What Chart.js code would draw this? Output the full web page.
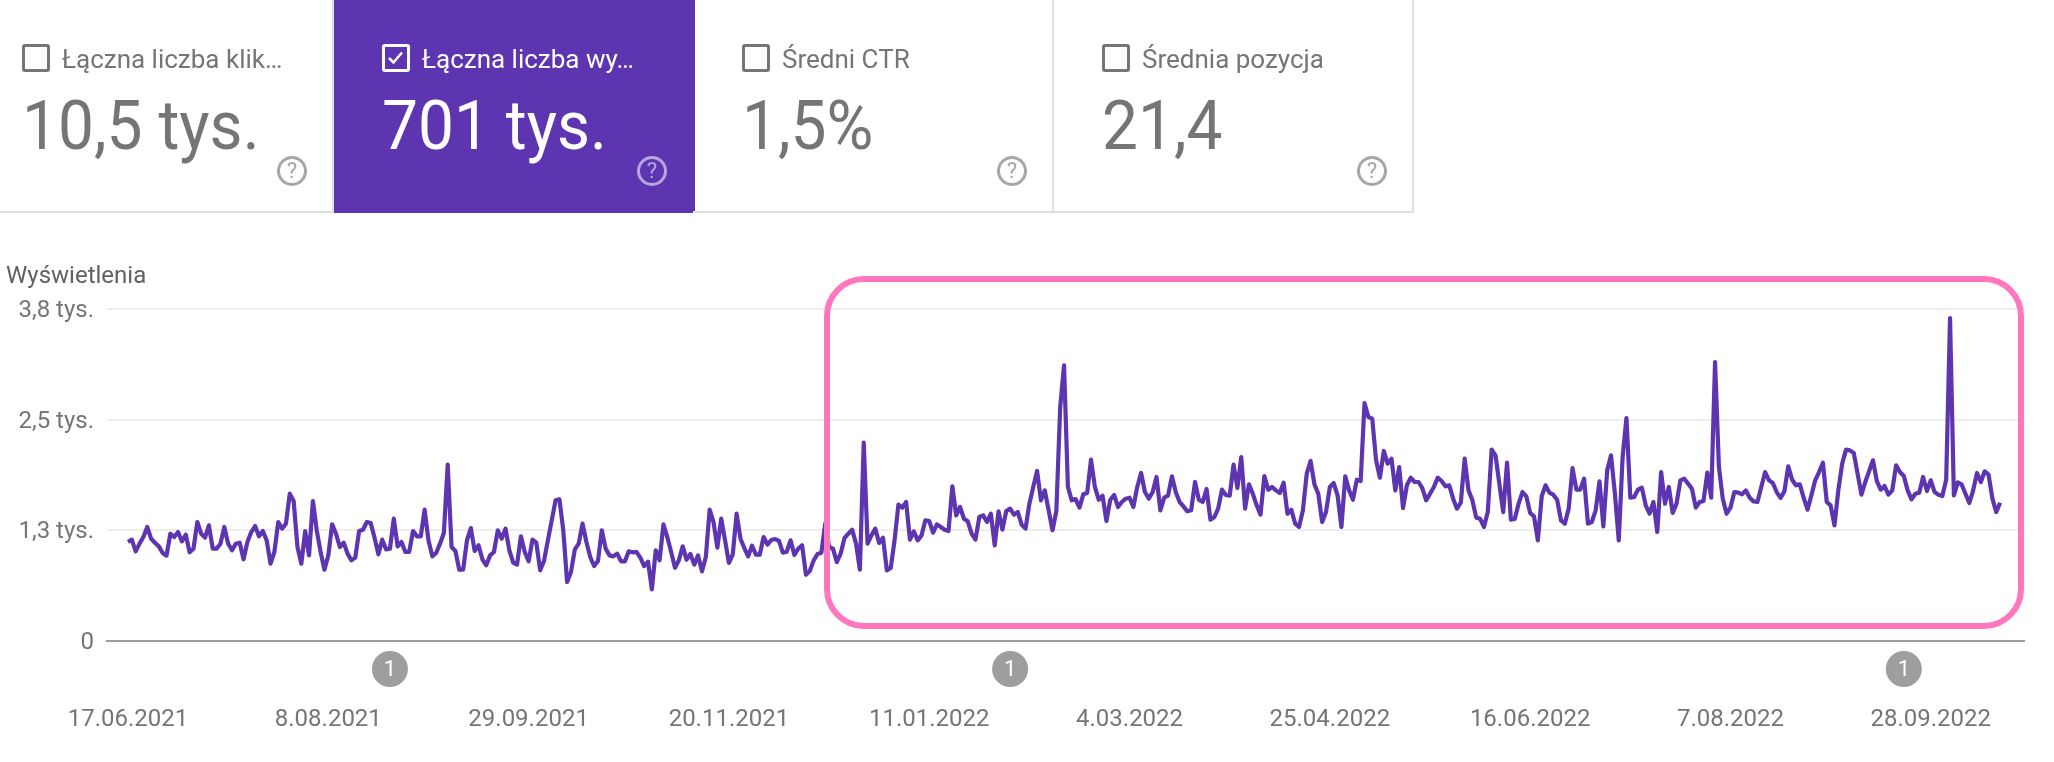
<!DOCTYPE html>
<html lang="pl">
<head>
<meta charset="utf-8">
<title>Wyświetlenia</title>
<script src="https://cdn.jsdelivr.net/npm/chart.js@4/dist/chart.umd.min.js"></script>
<style>
html, body { margin: 0; padding: 0; background: #fff; }
body { position: relative; width: 2054px; height: 762px; overflow: hidden; font-family: Roboto, sans-serif; }
#chart { position: absolute; left: 0; top: 0; }
.card { position: absolute; top: 0; height: 211px; border-bottom: 2px solid #e0e0e0; border-right: 2px solid #e0e0e0; color: #757575; box-sizing: content-box; }
.card.on { background: #5e35b1; color: #fff; border-color: #5e35b1; }
.box { position: absolute; left: 49px; top: 44px; width: 28px; height: 28px; box-sizing: border-box; border: 3.5px solid #757575; border-radius: 3px; }
.on .box { border-color: #fff; left: 48px; }
.box svg { position: absolute; left: 0; top: 0; }
.name { position: absolute; left: 89px; top: 44px; font-size: 26px; line-height: 30px; white-space: nowrap; }
.on .name { left: 88px; }
.num { position: absolute; left: 49px; top: 89px; font-size: 64px; line-height: 76px; white-space: nowrap; transform: scaleY(1.06); transform-origin: left center; }
.on .num { left: 48px; }
.help { position: absolute; left: 304px; top: 156px; width: 30px; height: 30px; box-sizing: border-box; border: 3px solid #a6a6a6; border-radius: 50%; color: #a6a6a6; font-size: 22px; line-height: 24px; text-align: center; }
.on .help { border-color: #b9a6e0; color: #b9a6e0; left: 303px; }
#ytitle { position: absolute; left: 6px; top: 261px; font-size: 24px; line-height: 28px; color: #616161; }
#frame { position: absolute; left: 824px; top: 276px; width: 1200px; height: 353px; box-sizing: border-box; border: 6px solid #ff76bc; border-radius: 40px; }
</style>
</head>
<body>
<canvas id="chart" width="2054" height="762"></canvas>

<div class="card" style="left:-2px;width:334px">
    <div class="box" style="left:24px"></div>
    <div class="name" style="left:64px">Łączna liczba klik…</div>
    <div class="num" style="left:24px">10,5 tys.</div>
    <div class="help" style="left:279px">?</div>
</div>
<div class="card on" style="left:334px;width:359px">
    <div class="box"><svg width="21" height="21" viewBox="0 0 21 21"><path d="M4 11 L8.5 15.5 L17 5.5" fill="none" stroke="#fff" stroke-width="2.5"/></svg></div>
    <div class="name">Łączna liczba wy…</div>
    <div class="num">701 tys.</div>
    <div class="help">?</div>
</div>
<div class="card" style="left:693px;width:359px">
    <div class="box"></div>
    <div class="name">Średni CTR</div>
    <div class="num">1,5%</div>
    <div class="help">?</div>
</div>
<div class="card" style="left:1053px;width:359px">
    <div class="box"></div>
    <div class="name">Średnia pozycja</div>
    <div class="num">21,4</div>
    <div class="help">?</div>
</div>

<div id="ytitle">Wyświetlenia</div>
<div id="frame"></div>

<script>
// one value per day, starting 17.06.2021
var impressions = [
    1133, 1160, 1026, 1114, 1190, 1305, 1171, 1125, 1083, 1007, 977, 1228, 1190, 1247, 1140, 1217,
    1015, 1057, 1362, 1228, 1183, 1324, 1057, 1057, 1114, 1305, 1114, 1038, 1114, 1125, 935, 1133,
    1247, 1316, 1198, 1259, 1152, 885, 1019, 1362, 1286, 1343, 1686, 1602, 1076, 885, 1259, 980,
    1602, 1267, 1019, 816, 980, 1335, 1228, 1076, 1125, 1000, 923, 954, 1259, 1274, 1362, 1350,
    1183, 992, 1160, 1049, 1057, 1400, 1083, 1133, 1019, 1019, 1259, 1198, 1198, 1503, 1152, 969,
    1007, 1114, 1236, 2018, 1076, 1030, 816, 816, 1152, 1293, 1030, 1095, 935, 866, 980, 1019,
    1267, 1171, 1286, 1038, 897, 874, 1198, 1019, 912, 1160, 1125, 809, 916, 1152, 1381, 1610,
    1621, 1267, 675, 790, 1049, 1114, 1343, 1133, 961, 858, 916, 1267, 1057, 980, 969, 1000,
    912, 912, 1026, 1015, 1019, 954, 858, 908, 591, 1038, 923, 1335, 1190, 1019, 839, 923,
    1083, 931, 996, 874, 980, 797, 961, 1503, 1362, 1068, 1400, 1152, 893, 992, 1457, 1171,
    1064, 969, 1091, 988, 988, 1190, 1103, 1156, 1167, 1145, 1011, 1022, 1152, 984, 1057, 1095,
    759, 801, 923, 996, 1011, 1343, 1076, 1057, 904, 1000, 1179, 1228, 1274, 1114, 816, 2270,
    1114, 1209, 1286, 1122, 1183, 809, 835, 1152, 1560, 1526, 1591, 1160, 1255, 1152, 1209, 1381,
    1373, 1240, 1335, 1305, 1274, 1259, 1770, 1438, 1534, 1400, 1370, 1228, 1160, 1419, 1438, 1362,
    1457, 1095, 1484, 1274, 1488, 1515, 1446, 1476, 1331, 1286, 1572, 1763, 1946, 1610, 1724, 1496,
    1267, 1488, 2678, 3155, 1763, 1610, 1625, 1526, 1679, 1694, 2075, 1763, 1617, 1663, 1373, 1617,
    1671, 1534, 1591, 1629, 1640, 1534, 1763, 1923, 1705, 1629, 1705, 1877, 1496, 1640, 1663, 1885,
    1705, 1591, 1541, 1484, 1496, 1820, 1617, 1591, 1740, 1389, 1419, 1515, 1732, 1671, 1663, 2018,
    1751, 2106, 1515, 1793, 1686, 1553, 1446, 1888, 1732, 1763, 1724, 1694, 1812, 1457, 1503, 1343,
    1305, 1495, 1915, 2060, 1793, 1686, 1362, 1476, 1763, 1808, 1667, 1305, 1885, 1724, 1617, 1846,
    1831, 2724, 2564, 2545, 2068, 1869, 2175, 2030, 2087, 1724, 1991, 1522, 1782, 1869, 1820, 1820,
    1751, 1610, 1686, 1763, 1869, 1831, 1770, 1782, 1629, 1515, 1583, 2087, 1724, 1610, 1412, 1400,
    1305, 1476, 2190, 2125, 1801, 1476, 2041, 1389, 1396, 1572, 1705, 1656, 1465, 1427, 1152, 1656,
    1782, 1698, 1675, 1617, 1381, 1343, 1515, 1980, 1732, 1732, 1858, 1343, 1362, 1496, 1827, 1312,
    1953, 2125, 1686, 1152, 2106, 2552, 1640, 1648, 1732, 1755, 1553, 1457, 1591, 1248, 1934, 1572,
    1763, 1465, 1572, 1839, 1858, 1801, 1743, 1526, 1591, 1602, 1927, 1640, 3193, 1991, 1629, 1457,
    1526, 1705, 1698, 1679, 1724, 1640, 1598, 1591, 1763, 1934, 1839, 1808, 1705, 1637, 1713, 1999,
    1846, 1782, 1793, 1640, 1503, 1667, 1839, 1934, 2041, 1591, 1553, 1324, 1724, 2030, 2190, 2182,
    2152, 1915, 1675, 1820, 1946, 2068, 1831, 1732, 1774, 1675, 1724, 2011, 1934, 1888, 1724, 1621,
    1686, 1698, 1877, 1717, 1839, 1705, 1675, 1660, 1846, 3697, 1667, 1816, 1793, 1686, 1579, 1724,
    1923, 1820, 1942, 1904, 1629, 1476, 1583
];

var xTickDays = [0, 52, 104, 156, 208, 260, 312, 364, 416, 468];
var xTickLabels = ['17.06.2021', '8.08.2021', '29.09.2021', '20.11.2021', '11.01.2022', '4.03.2022', '25.04.2022', '16.06.2022', '7.08.2022', '28.09.2022'];

var yTickValues = [0, 1267, 2533, 3800];
var yTickLabels = ['0', '1,3 tys.', '2,5 tys.', '3,8 tys.'];

// days that carry an annotation marker under the axis
var noteDays = [68, 229, 461];
var noteLabels = ['1', '1', '1'];

var points = impressions.map(function(v, i) {
    return { x: i, y: v };
});

var noteBadges = {
    id: 'noteBadges',
    afterDraw: function(chart) {
        var ctx = chart.ctx;
        var xs = chart.scales.x;
        ctx.save();
        noteDays.forEach(function(day, i) {
            var x = xs.getPixelForValue(day);
            ctx.fillStyle = '#9e9e9e';
            ctx.beginPath();
            ctx.arc(x, 669, 18, 0, Math.PI * 2);
            ctx.fill();
            ctx.fillStyle = '#fff';
            ctx.font = '22px Roboto';
            ctx.textAlign = 'center';
            ctx.textBaseline = 'middle';
            ctx.fillText(noteLabels[i], x, 670);
        });
        ctx.restore();
    }
};

new Chart(document.getElementById('chart'), {
    type: 'line',
    data: {
        datasets: [{
            label: 'Wyświetlenia',
            data: points,
            borderColor: '#5e35b1',
            borderWidth: 4.2,
            pointRadius: 0,
            tension: 0,
            borderJoinStyle: 'round',
            clip: false
        }]
    },
    plugins: [noteBadges],
    options: {
        responsive: false,
        animation: false,
        layout: { padding: { top: 309, left: 0, right: 30, bottom: 0 } },
        plugins: { legend: { display: false }, tooltip: { enabled: false } },
        scales: {
            x: {
                type: 'linear',
                min: -5.45,
                max: 492.2,
                afterFit: function(scale) {
                    scale.height = 121;
                    // the end labels sit inside the plot, so they need no side room
                    scale.paddingLeft = 0;
                    scale.paddingRight = 0;
                },
                afterBuildTicks: function(scale) {
                    scale.ticks = xTickDays.map(function(d) { return { value: d }; });
                },
                grid: { display: false, drawTicks: false },
                border: { color: '#9e9e9e', width: 2 },
                ticks: {
                    autoSkip: false,
                    maxRotation: 0,
                    padding: 65,
                    color: '#757575',
                    font: { family: 'Roboto', size: 24 },
                    callback: function(value) {
                        return xTickLabels[xTickDays.indexOf(value)];
                    }
                }
            },
            y: {
                min: 0,
                max: 3800,
                afterFit: function(scale) { scale.width = 107; },
                afterBuildTicks: function(scale) {
                    scale.ticks = yTickValues.map(function(v) { return { value: v }; });
                },
                grid: { color: '#eeeeee', lineWidth: 2, drawTicks: false },
                border: { display: false },
                ticks: {
                    padding: 13,
                    labelOffset: 2,
                    color: '#757575',
                    font: { family: 'Roboto', size: 24 },
                    callback: function(value) {
                        return yTickLabels[yTickValues.indexOf(value)];
                    }
                }
            }
        }
    }
});
</script>
</body>
</html>
